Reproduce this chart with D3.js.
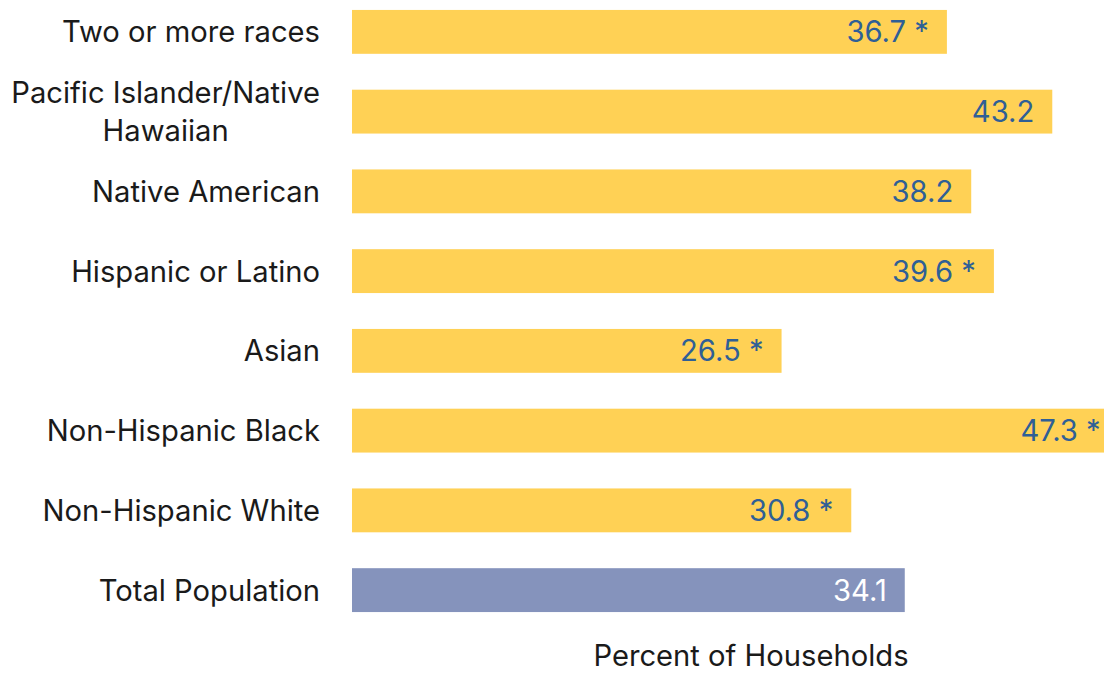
<!DOCTYPE html>
<html>
<head>
<meta charset="utf-8">
<script src="https://cdn.jsdelivr.net/npm/d3@7"></script>
<style>
  html, body { margin: 0; padding: 0; background: #ffffff; }
  svg { display: block; font-family: Inter, "Open Sans", "Liberation Sans", Arial, sans-serif; }
</style>
</head>
<body>
<svg id="chart" width="1104" height="673"></svg>
<script>
// Households share by race/ethnicity (percent), top to bottom
const categories = [
  "Two or more races",
  "Pacific Islander/Native Hawaiian",
  "Native American",
  "Hispanic or Latino",
  "Asian",
  "Non-Hispanic Black",
  "Non-Hispanic White",
  "Total Population"
];
const categoryLines = [
  ["Two or more races"],
  ["Pacific Islander/Native", "Hawaiian"],
  ["Native American"],
  ["Hispanic or Latino"],
  ["Asian"],
  ["Non-Hispanic Black"],
  ["Non-Hispanic White"],
  ["Total Population"]
];
const values = [36.7, 43.2, 38.2, 39.6, 26.5, 47.3, 30.8, 34.1];
const significant = [true, false, false, true, true, true, true, false];
const axisTitle = "Percent of Households";

const svg = d3.select("#chart");
const fontSize = 29.2;

const x = d3.scaleLinear().domain([0, 50]).range([352, 352 + 50 * 16.21]);
const y = d3.scaleBand()
  .domain(categories)
  .range([-8, 630])
  .paddingInner(0.45)
  .paddingOuter(0.225);

const rows = categories.map((c, i) => ({
  cat: c, lines: categoryLines[i], value: values[i], sig: significant[i],
  total: c === "Total Population"
}));

// Bars
svg.append("g").selectAll("rect")
  .data(rows)
  .join("rect")
  .attr("x", x(0))
  .attr("y", d => y(d.cat))
  .attr("width", d => x(d.value) - x(0))
  .attr("height", y.bandwidth())
  .attr("fill", d => d.total ? "#8593BC" : "#FFD155");

// Value labels inside the bar end
svg.append("g").selectAll("text")
  .data(rows)
  .join("text")
  .attr("x", d => x(d.value) - 18)
  .attr("y", d => y(d.cat) + y.bandwidth() / 2)
  .attr("dy", "0.36em")
  .attr("text-anchor", "end")
  .attr("font-size", fontSize)
  .attr("fill", d => d.total ? "#ffffff" : "#2F5F96")
  .text(d => d3.format(".1f")(d.value) + (d.sig ? " *" : ""));

// Category labels (multi-line labels are centred on each other, right-aligned as a block)
const lineH = 38;
const labels = svg.append("g").selectAll("g")
  .data(rows)
  .join("g");

labels.each(function(d) {
  const g = d3.select(this);
  const cy = y(d.cat) + y.bandwidth() / 2;
  const n = d.lines.length;
  const t = g.append("text")
    .attr("font-size", fontSize)
    .attr("fill", "#1a1a1a");
  d.lines.forEach((ln, k) => {
    t.append("tspan")
      .attr("y", cy + (k - (n - 1) / 2) * lineH)
      .attr("dy", "0.36em")
      .text(ln);
  });
  if (n === 1) {
    t.attr("text-anchor", "end").selectAll("tspan").attr("x", 320);
  } else {
    const widths = [];
    t.selectAll("tspan").each(function() { widths.push(this.getComputedTextLength()); });
    const maxW = d3.max(widths);
    t.attr("text-anchor", "middle").selectAll("tspan").attr("x", 320 - maxW / 2);
  }
});

// Axis title
svg.append("text")
  .attr("x", 751)
  .attr("y", 666)
  .attr("text-anchor", "middle")
  .attr("font-size", fontSize)
  .attr("fill", "#1a1a1a")
  .text(axisTitle);
</script>
</body>
</html>
